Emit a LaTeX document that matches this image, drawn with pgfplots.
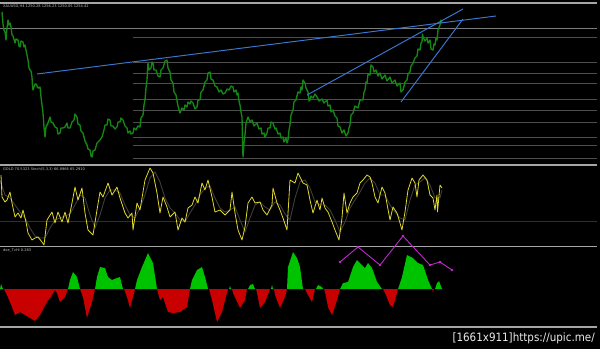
\documentclass[border=0pt]{standalone}
\usepackage{pgfplots}
\pgfplotsset{compat=1.18}
\usepackage{fontspec}
\setmainfont{DejaVu Sans}
\newfontfamily\wm{DejaVu Sans Condensed}
\definecolor{price}{RGB}{20,135,20}
\definecolor{tl}{RGB}{60,120,210}
\definecolor{gridc}{RGB}{78,78,78}
\definecolor{sep}{RGB}{165,165,165}
\definecolor{stk}{RGB}{225,215,45}
\definecolor{sig}{RGB}{62,62,55}
\definecolor{hg}{RGB}{0,195,0}
\definecolor{hr}{RGB}{200,0,0}
\definecolor{mg}{RGB}{200,40,210}
\begin{document}
\begin{tikzpicture}
\begin{axis}[
  scale only axis, width=600pt, height=349pt,
  xmin=0, xmax=600, ymin=0, ymax=349, y dir=reverse,
  axis lines=none, ticks=none, enlargelimits=false,
  axis background/.style={fill=black},
]
\addplot[fill=black, draw=none] coordinates {(0,0)(600,0)(600,349)(0,349)};
% separators
\addplot[sep, line width=1.4pt] coordinates {(0,3)(597,3)};
\addplot[sep, line width=1.4pt] coordinates {(0,165)(597,165)};
\addplot[sep, line width=1.4pt] coordinates {(0,246.5)(597,246.5)};
\addplot[sep, line width=1.2pt] coordinates {(0,327)(597,327)};
% main grid levels
\addplot[sep!75!black, line width=0.5pt] coordinates {(0,28)(597,28)};
\foreach \yy in {37,62,73,83,99,110,122,137,145,158}{
  \edef\tmp{\noexpand\addplot[gridc, line width=0.45pt] coordinates {(133,\yy)(597,\yy)};}\tmp
}
\addplot[gridc!60!black, line width=0.4pt] coordinates {(0,221)(597,221)};
% price
\addplot[price, line width=1.35pt, line join=round] coordinates {
(2,12)(3,24)(4,30)(5,32)(6,40)(7,28)(8,20)(9,25)(10,23)(11,27)(12,35)(13,36)(15,43)(16,39)(18,40)(19,46)(20,47)(21,41)(23,42)(24,47)(25,45)(26,50)(28,60)(29,68)(30,70)(31,71)(32,77)(32.5,86)(33,90)(35,84)(36,84)(38,88)(40,87)(41,97)(43,113)(44,127)(45,137)(46,127)(47,125)(48,123)(50,117)(51,122)(53,123)(55,127)(57,128)(58,134)(60,133)(61,128)(63,128)(65,127)(67,123)(68,128)(70,128)(72,122)(74,120)(75,114)(77,117)(78,124)(80,125)(81,131)(83,133)(85,141)(87,145)(88,149)(90,150)(91,156)(92,157)(93,151)(95,150)(97,143)(100,140)(102,137)(104,130)(105,125)(107,125)(108,119)(110,120)(111,126)(113,126)(115,129)(117,127)(118,122)(120,122)(121,118)(123,120)(125,126)(127,128)(128,133)(130,131)(131,134)(133,133)(134,128)(136,130)(138,126)(140,127)(141,118)(143,115)(144,105)(145,100)(146,88)(147,80)(147.5,70)(148,63)(149,70)(151,68)(152,62)(153,63)(154,70)(156,70)(158,76)(160,77)(161,70)(163,68)(165,61)(167,60)(168,68)(170,72)(171,80)(173,83)(174,92)(176,95)(178,106)(180,113)(182,108)(184,110)(185,105)(187,107)(188,102)(190,104)(191,101)(193,103)(195,109)(197,107)(198,100)(200,100)(201,92)(203,90)(205,82)(207,80)(208,73)(210,72)(211,79)(213,80)(215,86)(217,87)(219,92)(221,90)(223,94)(225,93)(227,89)(229,90)(231,86)(233,87)(234,92)(236,90)(237,95)(238,93)(239,101)(240,105)(241,112)(242,117)(242.5,140)(243,157)(244,143)(245,135)(246,123)(248,117)(250,122)(252,120)(254,126)(257,123)(259,129)(261,128)(262,134)(264,133)(265,137)(267,133)(268,128)(270,128)(271,122)(273,123)(275,129)(276,128)(278,134)(280,133)(281,138)(283,137)(284,142)(286,138)(287,143)(288,140)(289,130)(290,125)(291,115)(293,110)(294,102)(296,100)(298,92)(300,93)(301,87)(302,90)(303,80)(305,83)(306,88)(308,92)(309,101)(310,100)(311,96)(313,98)(315,94)(317,97)(319,101)(322,99)(324,103)(327,100)(328,106)(330,105)(331,112)(333,110)(335,116)(337,118)(338,126)(340,127)(342,133)(344,130)(346,136)(348,133)(349,128)(350,125)(351,115)(353,113)(355,106)(358,108)(360,100)(363,100)(364,92)(365,90)(366,82)(367,83)(368,74)(370,75)(371,65)(373,67)(374,72)(376,70)(378,76)(380,73)(382,79)(385,75)(387,81)(390,77)(392,83)(395,80)(397,86)(400,83)(401,92)(403,90)(405,82)(407,80)(408,74)(410,72)(411,66)(413,63)(415,58)(417,56)(418,49)(420,50)(421,43)(422,42)(422.5,34)(423,37)(425,41)(427,38)(428,43)(430,40)(431,49)(433,50)(434,44)(435,45)(436,38)(437,40)(438,30)(440,25)(441,20)(442,23)
};
% trend lines
\addplot[tl, line width=0.95pt] coordinates {(37,74)(496,16)};
\addplot[tl, line width=0.95pt] coordinates {(307,95)(463,9)};
\addplot[tl, line width=0.95pt] coordinates {(401,102)(463,19)};
% stochastic signal
\addplot[sig, line width=0.9pt] coordinates {
(0,180)(5,195)(10,198)(15,205)(20,212)(25,218)(30,228)(35,236)(40,238)(45,238)(50,228)(55,220)(60,218)(65,216)(70,214)(75,205)(80,195)(85,198)(90,215)(95,228)(100,215)(105,198)(110,190)(115,190)(120,193)(125,205)(130,215)(135,218)(140,208)(145,195)(150,178)(155,172)(160,182)(165,198)(170,208)(175,213)(180,220)(185,222)(190,213)(195,205)(200,195)(205,188)(210,186)(215,198)(220,208)(225,212)(230,210)(235,207)(240,220)(245,232)(250,218)(255,205)(260,202)(265,207)(270,210)(275,202)(280,205)(285,214)(290,220)(295,198)(300,182)(305,180)(310,188)(315,202)(320,205)(325,205)(330,210)(335,220)(340,232)(345,222)(350,208)(355,200)(360,192)(365,183)(370,178)(375,183)(380,195)(385,195)(390,205)(395,212)(400,218)(405,220)(410,200)(415,185)(420,182)(425,178)(430,185)(435,198)(440,198)(442,190)
};
% stochastic main
\addplot[stk, line width=0.8pt, line join=round] coordinates {
(1,175)(2,197)(5,202)(7,200)(10,192)(12,203)(15,217)(18,213)(21,218)(23,210)(26,222)(28,233)(32,240)(35,238)(38,237)(42,242)(44,245)(47,220)(52,212)(55,223)(58,212)(62,222)(65,212)(68,223)(72,203)(75,187)(78,200)(82,188)(85,213)(88,230)(93,235)(97,210)(100,192)(103,197)(108,183)(112,195)(117,187)(120,198)(125,213)(128,218)(132,213)(133,230)(137,203)(140,210)(145,180)(150,168)(153,173)(157,193)(160,213)(163,197)(167,207)(170,217)(175,212)(178,230)(182,218)(185,222)(188,208)(192,205)(195,197)(198,203)(202,183)(205,190)(208,180)(212,197)(215,212)(220,210)(225,215)(230,210)(232,192)(235,213)(238,230)(242,240)(245,227)(248,203)(252,197)(255,203)(260,202)(263,210)(267,215)(272,205)(273,188)(277,203)(280,210)(283,218)(287,230)(290,180)(295,183)(298,173)(300,177)(303,183)(307,185)(310,200)(313,213)(317,200)(320,210)(322,198)(325,208)(328,212)(332,222)(335,230)(339,240)(342,218)(344,193)(347,213)(350,203)(353,197)(357,193)(360,183)(363,180)(367,175)(370,177)(372,183)(375,197)(378,203)(382,187)(385,193)(390,220)(393,207)(397,213)(400,223)(402,230)(405,212)(408,190)(412,178)(415,183)(417,197)(419,180)(423,175)(427,180)(430,195)(433,198)(435,210)(437,195)(437.5,212)(440,185)(442,188)
};
% histogram
\addplot[fill=hg, draw=none] coordinates {(0,289)(1,284)(3,289)};
\addplot[fill=hr, draw=none] coordinates {(4,289)(7,295)(12,307)(15,315)(20,312)(25,315)(30,318)(35,321)(40,315)(47,302)(52,295)(55,290)(57,293)(60,302)(65,297)(68,289)};
\addplot[fill=hg, draw=none] coordinates {(68,289)(70,280)(73,272)(77,277)(80,289)};
\addplot[fill=hr, draw=none] coordinates {(80,289)(83,297)(87,318)(92,302)(95,289)};
\addplot[fill=hg, draw=none] coordinates {(95,289)(97,277)(100,267)(105,268)(108,277)(112,280)(117,278)(120,277)(123,289)};
\addplot[fill=hr, draw=none] coordinates {(124,289)(127,297)(130,308)(133,297)(135,289)};
\addplot[fill=hg, draw=none] coordinates {(135,289)(137,280)(142,267)(148,253)(153,263)(157,289)};
\addplot[fill=hr, draw=none] coordinates {(157,289)(160,300)(163,297)(168,312)(173,313)(180,312)(187,307)(190,289)};
\addplot[fill=hg, draw=none] coordinates {(190,289)(192,280)(197,270)(202,267)(205,277)(208,289)};
\addplot[fill=hr, draw=none] coordinates {(209,289)(212,300)(217,322)(222,312)(228,289)};
\addplot[fill=hg, draw=none] coordinates {(229,289)(230,286)(231,289)};
\addplot[fill=hr, draw=none] coordinates {(232,289)(233,293)(240,308)(245,300)(247,289)};
\addplot[fill=hg, draw=none] coordinates {(248,289)(250,285)(253,284)(255,289)};
\addplot[fill=hr, draw=none] coordinates {(256,289)(257,293)(260,308)(265,302)(270,289)};
\addplot[fill=hg, draw=none] coordinates {(271,289)(272,285)(273,289)};
\addplot[fill=hr, draw=none] coordinates {(274,289)(275,295)(280,308)(285,297)(287,289)};
\addplot[fill=hg, draw=none] coordinates {(287,289)(288,267)(293,252)(297,258)(300,267)(303,289)};
\addplot[fill=hr, draw=none] coordinates {(305,289)(308,295)(312,302)(315,289)};
\addplot[fill=hg, draw=none] coordinates {(316,289)(318,285)(322,287)(323,289)};
\addplot[fill=hr, draw=none] coordinates {(324,289)(325,292)(328,307)(332,315)(337,300)(340,289)};
\addplot[fill=hg, draw=none] coordinates {(340,289)(343,283)(348,282)(353,267)(357,260)(362,265)(365,268)(368,263)(372,268)(377,282)(382,289)};
\addplot[fill=hr, draw=none] coordinates {(383,289)(385,293)(390,305)(393,307)(397,293)(398,289)};
\addplot[fill=hg, draw=none] coordinates {(398,289)(402,277)(407,255)(413,258)(418,263)(423,265)(428,280)(432,289)};
\addplot[fill=hr, draw=none] coordinates {(432,289)(433,292)(434,289)};
\addplot[fill=hg, draw=none] coordinates {(435,289)(437,283)(439,281)(442,289)};
% zigzag
\addplot[mg, line width=0.85pt, mark=*, mark size=0.7pt, mark options={fill=mg}] coordinates {(340,262)(358,247)(380,265)(403,236)(430,265)(440,262)(452,270)};
% labels
\node[anchor=west, text=white!75!black, font=\fontsize{3.6}{4}\selectfont, inner sep=0pt] at (axis cs:3,6.5) {XAUUSD,H4 1250.28 1256.23 1250.05 1254.42};
\node[anchor=west, text=white!75!black, font=\fontsize{3.6}{4}\selectfont, inner sep=0pt] at (axis cs:3,169) {GOLD 70.5323 Stoch(5,3,3) 66.8966 65.2910};
\node[anchor=west, text=white!75!black, font=\fontsize{3.6}{4}\selectfont, inner sep=0pt] at (axis cs:3,250.5) {doe\_TvHi 0.283};
\node[anchor=east, text=white!92!black, font=\wm\fontsize{11.5}{12}\selectfont, inner sep=0pt] at (axis cs:595,338) {[1661x911]https://upic.me/};
\end{axis}
\end{tikzpicture}
\end{document}
